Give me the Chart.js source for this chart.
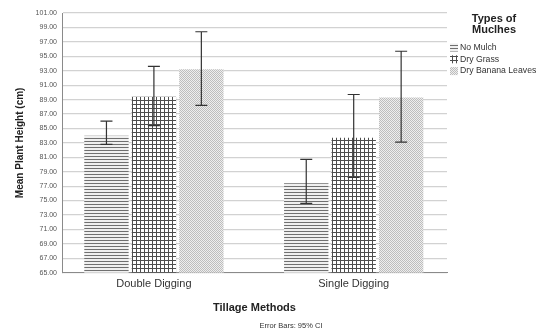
<!DOCTYPE html>
<html>
<head>
<meta charset="utf-8">
<script src="https://cdn.jsdelivr.net/npm/chart.js@4/dist/chart.umd.min.js"></script>
<style>
html,body{margin:0;padding:0;background:#fff;}
#wrap{width:540px;height:334px;}
</style>
</head>
<body>
<div id="wrap"><canvas id="c" width="540" height="334"></canvas></div>
<script>
const categories = ['Double Digging', 'Single Digging'];
const seriesNames = ['No Mulch', 'Dry Grass', 'Dry Banana Leaves'];
const noMulch = [84.0, 77.4];
const noMulchLow = [82.8, 74.6];
const noMulchHigh = [86.0, 80.7];
const dryGrass = [89.4, 83.7];
const dryGrassLow = [85.4, 78.2];
const dryGrassHigh = [93.6, 89.7];
const banana = [93.2, 89.3];
const bananaLow = [88.2, 83.1];
const bananaHigh = [98.4, 95.7];
const yMin = 65, yMax = 101, yStep = 2;

const FONT = "'Liberation Sans', Arial, sans-serif";

function makePattern(kind) {
  const c = document.createElement('canvas');
  const x = c.getContext('2d');
  if (kind === 'hlines') {
    c.width = 4; c.height = 3;
    x.fillStyle = '#f0f0f0'; x.fillRect(0, 0, 4, 3);
    x.fillStyle = '#707070'; x.fillRect(0, 0, 4, 1);
  } else if (kind === 'grid') {
    c.width = 4; c.height = 4;
    x.fillStyle = '#ffffff'; x.fillRect(0, 0, 4, 4);
    x.fillStyle = '#4d4d4d'; x.fillRect(0, 0, 4, 1); x.fillRect(0, 0, 1, 4);
  } else {
    c.width = 2; c.height = 2;
    x.fillStyle = '#eeeeee'; x.fillRect(0, 0, 2, 2);
    x.fillStyle = '#bdbdbd'; x.fillRect(0, 0, 1, 1); x.fillRect(1, 1, 1, 1);
  }
  return x.createPattern(c, 'repeat');
}
const patterns = [makePattern('hlines'), makePattern('grid'), makePattern('dots')];
const lows = [noMulchLow, dryGrassLow, bananaLow];
const highs = [noMulchHigh, dryGrassHigh, bananaHigh];

const errorBars = {
  id: 'errorBars',
  afterDatasetsDraw(chart) {
    const ctx = chart.ctx;
    const y = chart.scales.y;
    ctx.save();
    ctx.strokeStyle = '#333333';
    ctx.lineWidth = 1.2;
    chart.data.datasets.forEach((ds, di) => {
      const meta = chart.getDatasetMeta(di);
      meta.data.forEach((bar, i) => {
        const yl = y.getPixelForValue(lows[di][i]);
        const yh = y.getPixelForValue(highs[di][i]);
        const x = bar.x;
        ctx.beginPath();
        ctx.moveTo(x, yl); ctx.lineTo(x, yh);
        ctx.moveTo(x - 6, yl); ctx.lineTo(x + 6, yl);
        ctx.moveTo(x - 6, yh); ctx.lineTo(x + 6, yh);
        ctx.stroke();
      });
    });
    ctx.restore();
  }
};

const extras = {
  id: 'extras',
  afterDraw(chart) {
    const ctx = chart.ctx;
    ctx.save();
    ctx.fillStyle = '#222';
    ctx.textAlign = 'center';
    ctx.textBaseline = 'middle';
    ctx.font = 'bold 11px ' + FONT;
    ctx.fillText('Types of', 494, 19);
    ctx.fillText('Muclhes', 494, 30);
    ctx.textAlign = 'left';
    ctx.font = '8.7px ' + FONT;
    chart.data.datasets.forEach((ds, i) => {
      const cy = 47.5 + i * 11.8;
      ctx.fillStyle = ds.backgroundColor;
      ctx.fillRect(450, cy - 4, 8, 8);
      ctx.fillStyle = '#333';
      ctx.fillText(ds.label, 460, cy);
    });
    ctx.fillStyle = '#333';
    ctx.textAlign = 'center';
    ctx.font = '7.5px ' + FONT;
    ctx.fillText('Error Bars: 95% CI', 291, 326);
    ctx.restore();
  }
};

new Chart(document.getElementById('c'), {
  type: 'bar',
  data: {
    labels: categories,
    datasets: [
      { label: seriesNames[0], data: noMulch, backgroundColor: patterns[0], borderWidth: 0 },
      { label: seriesNames[1], data: dryGrass, backgroundColor: patterns[1], borderWidth: 0 },
      { label: seriesNames[2], data: banana, backgroundColor: patterns[2], borderWidth: 0 }
    ]
  },
  options: {
    responsive: false,
    animation: false,
    devicePixelRatio: 1,
    categoryPercentage: 0.7125,
    barPercentage: 0.935,
    layout: { padding: { top: 13, right: 93, bottom: 0, left: 0 } },
    plugins: { legend: { display: false }, tooltip: { enabled: false } },
    scales: {
      x: {
        grid: { display: false, drawTicks: false },
        border: { color: '#8a8a8a', width: 1 },
        ticks: { color: '#333', font: { family: FONT, size: 11 }, padding: 5 },
        title: { display: true, text: 'Tillage Methods', color: '#222',
                 font: { family: FONT, size: 11, weight: 'bold' }, padding: { top: 0, bottom: 19 } },
        afterFit(s) { s.height = 61.3; },
        afterBuildTicks(s) { s._startValue = -0.46; s._valueRange = 1.927; }
      },
      y: {
        min: yMin, max: yMax,
        grid: { color: '#d2d2d2', lineWidth: 1.2, drawTicks: false },
        border: { color: '#8a8a8a', width: 1 },
        ticks: { stepSize: yStep, color: '#555', font: { family: FONT, size: 7 }, padding: 5,
                 callback: v => Number(v).toFixed(2) },
        title: { display: true, text: 'Mean Plant Height (cm)', color: '#222',
                 font: { family: FONT, size: 10, weight: 'bold' }, padding: { top: 14, bottom: 0 } },
        afterFit(s) { s.width = 62; }
      }
    }
  },
  plugins: [errorBars, extras]
});
</script>
</body>
</html>
